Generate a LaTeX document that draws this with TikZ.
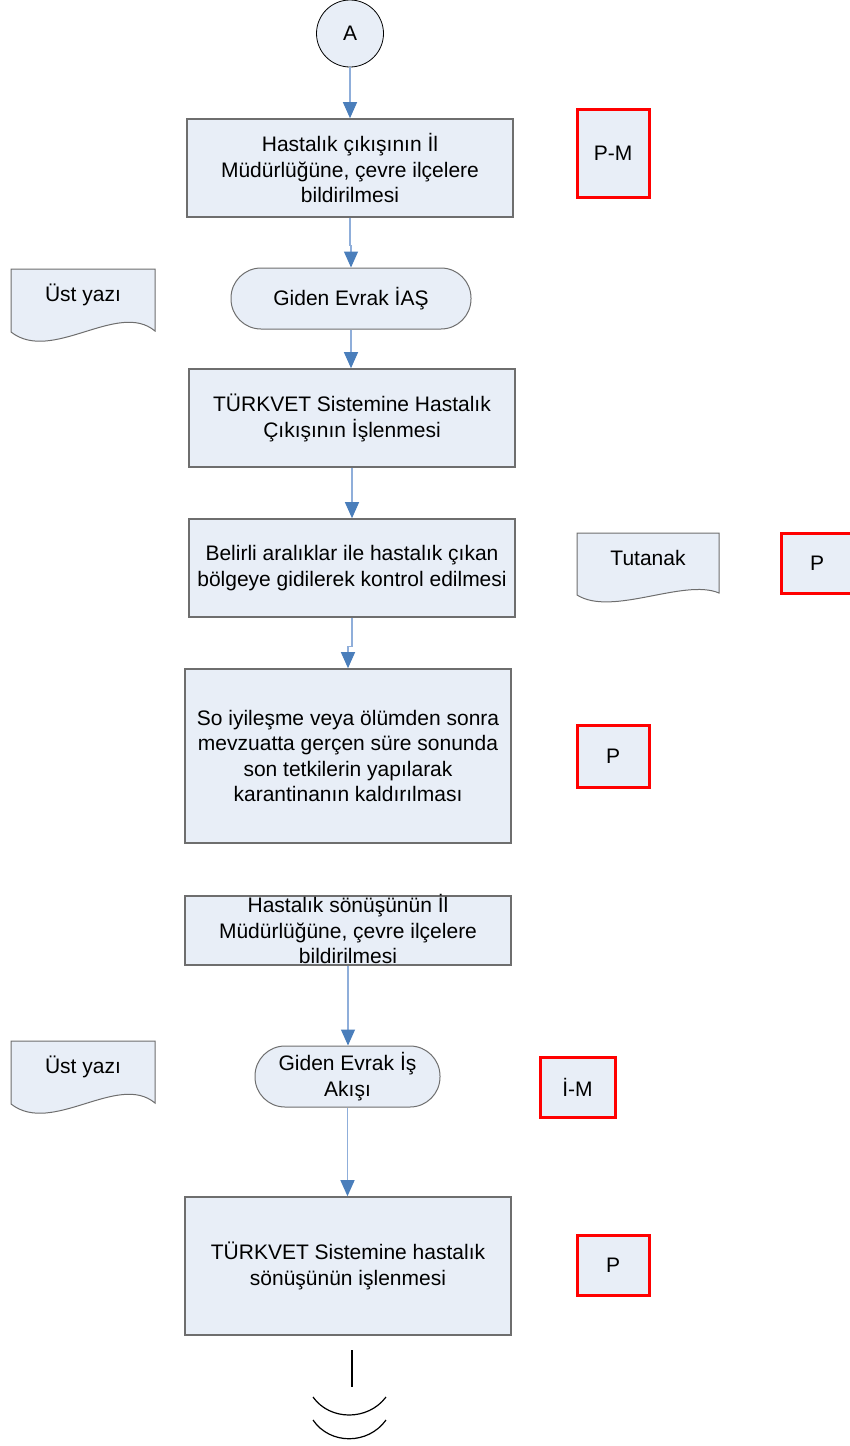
\documentclass[tikz,border=0pt]{standalone}
\usepackage{fontspec}
\setmainfont{Liberation Sans}
\usetikzlibrary{arrows.meta}
\definecolor{kutumavi}{HTML}{E8EEF7}
\definecolor{kenar}{HTML}{6E6E6E}
\definecolor{okmavi}{HTML}{4A7EBB}
\definecolor{okacik}{HTML}{8FAEDA}

\begin{document}
\begin{tikzpicture}[x=1pt,y=-1pt,font=\fontsize{21}{25.5}\selectfont]
\tikzstyle{kutu}=[rectangle,draw=kenar,line width=1.6pt,fill=kutumavi,align=center,inner sep=0pt,minimum width=326pt]
\tikzstyle{kirmizi}=[rectangle,draw=red,line width=3pt,fill=kutumavi,inner sep=0pt,minimum width=72pt]
\tikzstyle{uc}=[rectangle,rounded corners=30pt,draw=kenar,line width=1pt,fill=kutumavi,align=center,inner sep=0pt,minimum height=61pt]
\tikzstyle{belge}=[draw=kenar,line width=1pt,fill=kutumavi]
\tikzstyle{ok}=[draw=okacik,line width=1.2pt,-{Triangle[length=16pt,width=14pt,fill=okmavi,color=okmavi]}]
\useasboundingbox (0,0) rectangle (850,1446);

\node[circle,draw=black,line width=0.8pt,fill=kutumavi,minimum size=67pt,inner sep=0pt] (A) at (350,33.5) {A};
\node[kutu,minimum height=98pt] (b1) at (350,168) {Hastalık çıkışının İl\\Müdürlüğüne, çevre ilçelere\\bildirilmesi};
\node[kirmizi,minimum height=88pt] (pm) at (613,153) {P-M};

\draw[belge] (11,269) -- (155,269) -- (155,331) .. controls (118,300) and (52,364) .. (11,332) -- cycle;
\node (d1) at (83,295) {Üst yazı};
\node[uc,minimum width=240pt] (t1) at (351,298.5) {Giden Evrak İAŞ};

\node[kutu,minimum height=98pt] (b2) at (352,418) {TÜRKVET Sistemine Hastalık\\Çıkışının İşlenmesi};
\node[kutu,minimum height=98pt] (b3) at (352,568) {Belirli aralıklar ile hastalık çıkan\\bölgeye gidilerek kontrol edilmesi};

\draw[belge] (577,533) -- (719,533) -- (719,593) .. controls (684,578) and (612,617) .. (577,595) -- cycle;
\node (d2) at (648,558) {Tutanak};
\node[kirmizi,minimum height=60pt] (p1) at (817,563) {P};

\node[kutu,minimum height=174pt] (b4) at (348,756) {So iyileşme veya ölümden sonra\\mevzuatta gerçen süre sonunda\\son tetkilerin yapılarak\\karantinanın kaldırılması};
\node[kirmizi,minimum height=62pt] (p2) at (613,756) {P};

\node[kutu,minimum height=69pt] (b5) at (348,930.5) {};
\node[align=center,inner sep=0pt] (b5m) at (348,929) {Hastalık sönüşünün İl\\Müdürlüğüne, çevre ilçelere\\bildirilmesi};

\draw[belge] (11,1041) -- (155,1041) -- (155,1103) .. controls (118,1072) and (52,1136) .. (11,1104) -- cycle;
\node (d3) at (83,1067) {Üst yazı};
\node[uc,minimum width=185pt] (t2) at (347.5,1076.5) {Giden Evrak İş\\Akışı};
\node[kirmizi,minimum width=75pt,minimum height=60pt] (im) at (577.5,1087) {İ-M};

\node[kutu,minimum height=138pt] (b6) at (348,1266) {TÜRKVET Sistemine hastalık\\sönüşünün işlenmesi};
\node[kirmizi,minimum height=60pt] (p3) at (613,1265) {P};

\coordinate (s1) at (352,1350);
\coordinate (s2) at (352,1387);
\draw[line width=1.2pt] (s1) -- (s2);
\draw[line width=1.2pt] (313,1397) .. controls (330,1421) and (368,1421) .. (386,1397);
\draw[line width=1.2pt] (313,1420) .. controls (330,1445) and (368,1445) .. (386,1420);

\draw[ok] (A) -- (b1);
\draw[ok] (b1.south) -- ++(0,28) -| (t1.north);
\draw[ok] (t1.south) -- (t1.south |- b2.north);
\draw[ok] (b2) -- (b3);
\draw[ok] (b3.south) -- ++(0,29) -| (b4.north);
\draw[ok] (b5.south) -- (b5.south |- t2.north);
\draw[ok] (t2.south) -- (t2.south |- b6.north);
\end{tikzpicture}
\end{document}
